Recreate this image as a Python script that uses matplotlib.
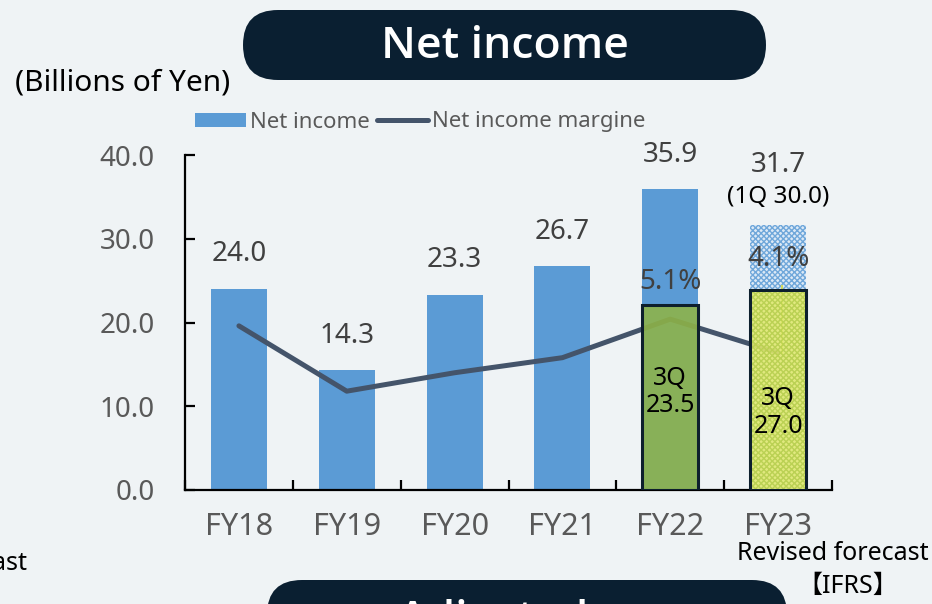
import matplotlib
matplotlib.use("Agg")
import matplotlib.pyplot as plt
import numpy as np
from matplotlib.patches import FancyBboxPatch, Patch
from matplotlib.lines import Line2D

# data
years = ["FY18", "FY19", "FY20", "FY21", "FY22", "FY23"]
net_income = [24.0, 14.3, 23.3, 26.7, 35.9, 31.7]
margin_pct = [4.9, 2.95, 3.5, 3.95, 5.1, 4.1]
q3_heights = [22.1, 23.9]          # drawn heights of the 3Q boxes (FY22, FY23)
q3_labels = ["3Q\n23.5", "3Q\n27.0"]
pct_labels = ["5.1%", "4.1%"]
fy23_note = "(1Q 30.0)"

BG = "#eff3f5"
BLUE = "#5b9bd5"
NAVY = "#44546a"
DARK = "#0a1f31"
GRAY = "#595959"
TXT = "#404040"

plt.rcParams["font.family"] = ["Noto Sans", "Noto Sans CJK JP", "DejaVu Sans"]
BOLD = ["Open Sans", "Noto Sans", "DejaVu Sans"]

W, H = 932, 604
fig = plt.figure(figsize=(W / 100, H / 100), dpi=100)
fig.patch.set_facecolor(BG)

# pixel-space overlay for banners and loose text
ov = fig.add_axes([0, 0, 1, 1], zorder=0)
ov.set_xlim(0, W)
ov.set_ylim(H, 0)
ov.axis("off")
ov.patch.set_alpha(0)

ov.add_patch(FancyBboxPatch((243, 10), 523, 70, boxstyle="round,pad=0,rounding_size=35",
                            facecolor=DARK, edgecolor="none"))
ov.text(505, 46, "Net income", color="white", fontsize=32, fontweight="semibold",
        family=BOLD, ha="center", va="center")
ov.add_patch(FancyBboxPatch((267, 580), 520, 70, boxstyle="round,pad=0,rounding_size=35",
                            facecolor=DARK, edgecolor="none", clip_on=False))
ov.text(398, 621, "Adjusted", color="white", fontsize=32, fontweight="semibold",
        family=BOLD, ha="left", va="center")
ov.text(15, 83, "(Billions of Yen)", color="black", fontsize=21.5, ha="left", va="center")
ov.text(833, 554, "Revised forecast", color="black", fontsize=18, ha="center", va="center")
ov.text(848, 586, "【IFRS】", color="black", fontsize=18, ha="center", va="center")
ov.text(28, 563, "forecast", color="black", fontsize=18, ha="right", va="center")

# main chart
x0, x1, ytop, ybot = 185, 832, 155, 490
ax = fig.add_axes([x0 / W, 1 - ybot / H, (x1 - x0) / W, (ybot - ytop) / H], zorder=2)
ax.patch.set_alpha(0)
x = np.arange(len(years))
bw = 0.52

ax.bar(x[:5], net_income[:5], width=bw, color=BLUE, zorder=2)
ax.bar(x[5], net_income[5], width=bw, color="#dce9f6", edgecolor="#6fa7da", hatch="xxxxxx",
       linewidth=0, zorder=2)

ax.set_xlim(-0.5, len(years) - 0.5)
ax.set_ylim(0, 40)
for s in ["top", "right"]:
    ax.spines[s].set_visible(False)
for s in ["left", "bottom"]:
    ax.spines[s].set_linewidth(1.6)
    ax.spines[s].set_color("black")
ax.set_yticks([0, 10, 20, 30, 40])
ax.set_yticklabels([f"{v:.1f}" for v in [0, 10, 20, 30, 40]])
ax.tick_params(axis="y", direction="in", length=7, width=1.6, labelsize=20,
               labelcolor=GRAY, pad=22)
ax.set_xticks(np.arange(-0.5, len(years), 1.0))
ax.set_xticklabels([])
ax.tick_params(axis="x", which="major", direction="in", length=7, width=1.6)
ax.set_xticks(x, minor=True)
ax.set_xticklabels(years, minor=True)
ax.tick_params(axis="x", which="minor", length=0, labelsize=22, labelcolor=GRAY, pad=16)

# margin line on hidden secondary scale (0-10%)
ax2 = ax.twinx()
ax2.set_ylim(0, 10)
ax2.axis("off")
ax2.plot(x, margin_pct, color=NAVY, lw=3.6, solid_capstyle="round",
         solid_joinstyle="round", zorder=3)
ax2.plot([x[5] + 0.04, x[5] + 0.04], [margin_pct[5], 6.1], color="#d3da5c", lw=1.5, zorder=2)

# 3Q boxes on top, slightly see-through
ax3 = ax.twinx()
ax3.set_ylim(0, 40)
ax3.axis("off")
ax3.bar(x[4], q3_heights[0], width=bw, color="#8fb447", alpha=0.88, linewidth=0, zorder=4)
ax3.bar(x[5], q3_heights[1], width=bw, color="#e2ea6e", edgecolor="#b8cf4e", hatch="xxxxxx",
        alpha=0.88, linewidth=0, zorder=4)
ax3.bar(x[4:], q3_heights, width=bw, fill=False, edgecolor="#0d1f2d", linewidth=2.2, zorder=5)
for xi, y_txt, lab in zip(x[4:], [11.7, 9.3], q3_labels):
    ax3.text(xi, y_txt, lab, ha="center", va="center", fontsize=18, color="black",
             linespacing=1.15, zorder=6)

# value labels
for xi, v in zip(x[:5], net_income[:5]):
    ax3.annotate(f"{v:.1f}", (xi, v), xytext=(0, 25), textcoords="offset points",
                 ha="center", va="center", fontsize=20, color=TXT, annotation_clip=False)
ax3.annotate(f"{net_income[5]:.1f}", (x[5], net_income[5]), xytext=(0, 43),
             textcoords="offset points", ha="center", va="center", fontsize=20, color=TXT,
             annotation_clip=False)
ax3.annotate(fy23_note, (x[5], net_income[5]), xytext=(0, 20), textcoords="offset points",
             ha="center", va="center", fontsize=17.5, color="black", annotation_clip=False)
for xi, y_txt, lab in zip(x[4:], [24.8, 27.6], pct_labels):
    ax3.text(xi, y_txt, lab, ha="center", va="center", fontsize=20, color=TXT, zorder=6)

handles = [Patch(facecolor=BLUE, edgecolor="none"),
           Line2D([0], [0], color=NAVY, lw=3.6, solid_capstyle="round")]
fig.legend(handles, ["Net income", "Net income margine"], loc="center",
           bbox_to_anchor=(420 / W, 1 - 122 / H), ncol=2, frameon=False, fontsize=16,
           handlelength=2.3, handleheight=0.6, handletextpad=0.2, columnspacing=0.3,
           labelcolor=GRAY)

fig.savefig("out.png", dpi=100, facecolor=BG)
